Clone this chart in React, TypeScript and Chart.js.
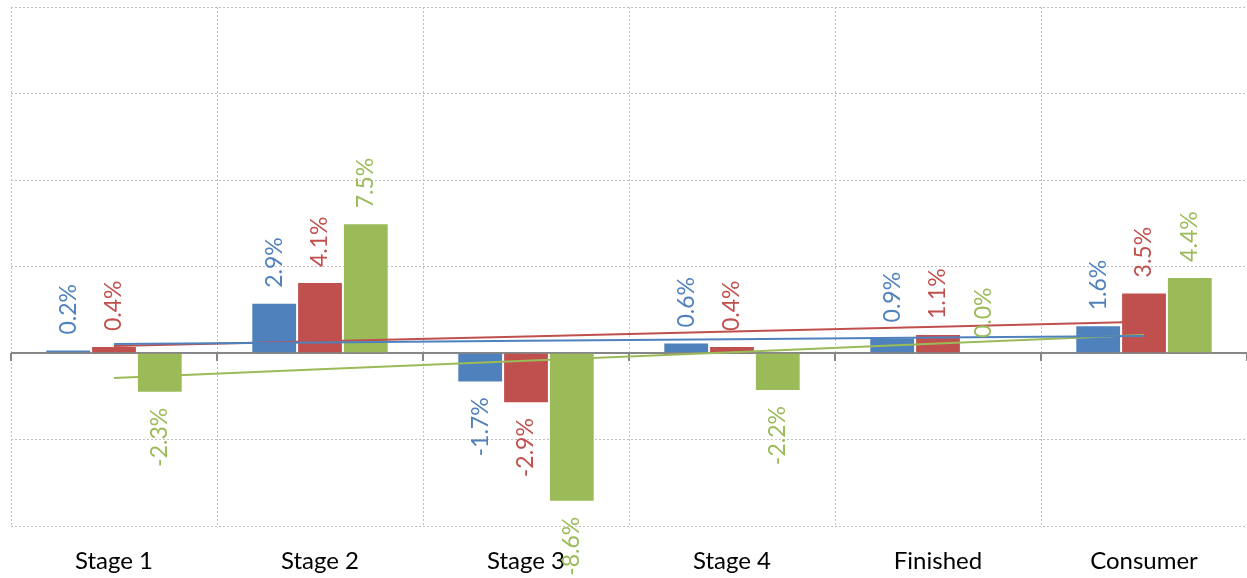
import React, { useEffect, useRef } from "react";
import { Chart, registerables } from "chart.js";

Chart.register(...registerables);

const categories = ["Stage 1", "Stage 2", "Stage 3", "Stage 4", "Finished", "Consumer"];
const seriesBlue = [0.2, 2.9, -1.7, 0.6, 0.9, 1.6];
const seriesRed = [0.4, 4.1, -2.9, 0.4, 1.1, 3.5];
const seriesGreen = [-2.3, 7.5, -8.6, -2.2, 0.0, 4.4];
const yMin = -10;
const yMax = 20;
const yStep = 5;

const BLUE = "#4F81BD";
const RED = "#C0504D";
const GREEN = "#9BBB59";
const FONT = "Lato, 'Open Sans', 'Noto Sans', sans-serif";

function linearTrend(values: number[]): number[] {
  const n = values.length;
  const mx = (n - 1) / 2;
  const my = values.reduce((a, b) => a + b, 0) / n;
  let sxy = 0;
  let sxx = 0;
  values.forEach((v, i) => {
    sxy += (i - mx) * (v - my);
    sxx += (i - mx) * (i - mx);
  });
  const slope = sxy / sxx;
  return values.map((_, i) => my + slope * (i - mx));
}

const barLabelPlugin = {
  id: "barLabels",
  afterDatasetsDraw(chart: any) {
    const ctx = chart.ctx;
    chart.data.datasets.forEach((ds: any, i: number) => {
      if (ds.type !== "bar") return;
      const meta = chart.getDatasetMeta(i);
      meta.data.forEach((el: any, j: number) => {
        const v = ds.data[j] as number;
        const { x, y } = el.getProps(["x", "y"], true);
        const gap = 15;
        ctx.save();
        ctx.font = `23px ${FONT}`;
        ctx.fillStyle = ds.backgroundColor;
        ctx.textBaseline = "middle";
        if (v >= 0) {
          ctx.translate(x, y - gap);
          ctx.textAlign = "left";
        } else {
          ctx.translate(x, y + gap);
          ctx.textAlign = "right";
        }
        ctx.rotate(-Math.PI / 2);
        ctx.fillText(v.toFixed(1) + "%", 0, 0);
        ctx.restore();
      });
    });
  },
};

const zeroAxisPlugin = {
  id: "zeroAxis",
  beforeDatasetsDraw(chart: any) {
    const ctx = chart.ctx;
    const xs = chart.scales.x;
    const ys = chart.scales.y;
    const y0 = ys.getPixelForValue(0);
    const n = categories.length;
    const w = (xs.right - xs.left) / n;
    ctx.save();
    ctx.strokeStyle = "#868686";
    ctx.lineWidth = 2;
    ctx.beginPath();
    ctx.moveTo(xs.left, y0);
    ctx.lineTo(xs.right, y0);
    for (let k = 0; k <= n; k++) {
      const bx = Math.round(xs.left + k * w);
      ctx.moveTo(bx, y0);
      ctx.lineTo(bx, y0 + 8);
    }
    ctx.stroke();
    ctx.restore();
  },
};

export default function App() {
  const canvasRef = useRef<HTMLCanvasElement | null>(null);

  useEffect(() => {
    if (!canvasRef.current) return;
    const chart = new Chart(canvasRef.current, {
      type: "bar",
      data: {
        labels: categories,
        datasets: [
          { type: "line", label: "Trend 1", data: linearTrend(seriesBlue), borderColor: BLUE, borderWidth: 2, pointRadius: 0, order: 0 } as any,
          { type: "line", label: "Trend 2", data: linearTrend(seriesRed), borderColor: RED, borderWidth: 2, pointRadius: 0, order: 0 } as any,
          { type: "line", label: "Trend 3", data: linearTrend(seriesGreen), borderColor: GREEN, borderWidth: 2, pointRadius: 0, order: 0 } as any,
          { type: "bar", label: "Series 1", data: seriesBlue, backgroundColor: BLUE, borderColor: "rgba(255,255,255,0.45)", borderWidth: 1, order: 1 } as any,
          { type: "bar", label: "Series 2", data: seriesRed, backgroundColor: RED, borderColor: "rgba(255,255,255,0.45)", borderWidth: 1, order: 1 } as any,
          { type: "bar", label: "Series 3", data: seriesGreen, backgroundColor: GREEN, borderColor: "rgba(255,255,255,0.45)", borderWidth: 1, order: 1 } as any,
        ],
      },
      options: {
        animation: false,
        responsive: false,
        maintainAspectRatio: false,
        layout: { padding: { left: 11, top: 7, right: 0, bottom: 0 } },
        plugins: { legend: { display: false }, tooltip: { enabled: false } },
        datasets: { bar: { categoryPercentage: 0.667, barPercentage: 1 } },
        scales: {
          x: {
            offset: true,
            grid: { offset: true, color: "#c0c0c0", lineWidth: 1, drawTicks: false },
            border: { display: false, dash: [2, 2] },
            ticks: { color: "#000", font: { family: FONT, size: 24 }, padding: 21 },
            afterFit: (scale: any) => {
              scale.height = 52;
            },
          },
          y: {
            min: yMin,
            max: yMax,
            ticks: { display: false, stepSize: yStep },
            grid: {
              drawTicks: false,
              color: (c: any) => (c.tick && c.tick.value === 0 ? "rgba(0,0,0,0)" : "#c0c0c0"),
              lineWidth: 1,
            },
            border: { display: false, dash: [2, 2] },
          },
        },
      } as any,
      plugins: [zeroAxisPlugin, barLabelPlugin],
    });
    return () => chart.destroy();
  }, []);

  return (
    <div style={{ position: "absolute", left: 0, top: 0, width: 1247, height: 578 }}>
      <canvas ref={canvasRef} width={1247} height={578} style={{ display: "block" }} />
    </div>
  );
}
